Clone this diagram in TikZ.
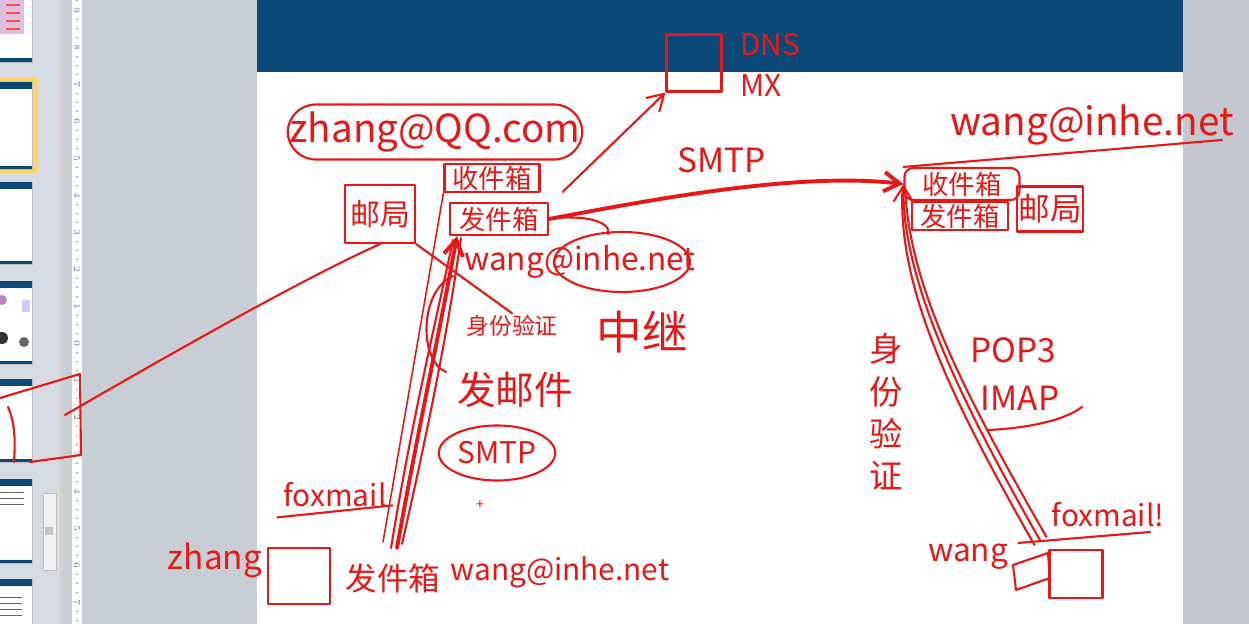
\documentclass[tikz,border=0pt]{standalone}
\usepackage{fontspec}
\usepackage{tikz}
\newfontfamily\cjk{Noto Sans CJK SC}
\usetikzlibrary{arrows.meta,shapes.geometric}
\definecolor{penred}{RGB}{232,22,22}
\definecolor{slideblue}{RGB}{10,72,120}
\definecolor{uigray}{RGB}{201,206,213}
\definecolor{panelgray}{RGB}{214,219,225}
\definecolor{sidegray}{RGB}{196,200,206}

\begin{document}
\begin{tikzpicture}[x=0.02cm, y=-0.02cm,
    pen/.style={draw=penred, line width=1.2pt, line cap=round, line join=round},
    heavy/.style={pen, line width=2.2pt},
    hand/.style={text=penred, font=\cjk\fontsize{#1}{#1}\selectfont, inner sep=1pt},
    hand/.default=18,
    mailbox/.style={pen, hand=15, minimum height=0.54cm, inner xsep=3pt},
    pc/.style={pen, minimum width=1.24cm, minimum height=1.12cm},
    thumb/.style={fill=white, draw=gray!50, line width=0.3pt},
    tip/.style={-{Straight Barb[length=9pt, width=11pt]}}]

    \useasboundingbox (0,0) rectangle (1249,624);
    \fill[uigray] (0,0) rectangle (1249,624);
    \fill[panelgray] (0,0) rectangle (60,624);
    \fill[gray!35] (60,0) rectangle (63,624);
    \fill[white] (72,0) rectangle (82,624);
    \foreach \k in {-10,...,7}
        \foreach \q in {0.25,0.5,0.75}
            \draw[gray!70, line width=0.3pt] (76,343+37*\k+37*\q) -- (78,343+37*\k+37*\q);
    \foreach \k in {1,...,9}
        \node[rotate=-90, font=\tiny, text=gray, inner sep=0pt] at (77,343-37*\k) {\k};
    \foreach \k in {0,...,7}
        \node[rotate=-90, font=\tiny, text=gray, inner sep=0pt] at (77,343+37*\k) {\k};
    \draw[gray!50, fill=gray!10] (43,493) rectangle (56,570);
    \fill[gray!45] (45,527) rectangle (53,535);

    \fill[thumb] (-2,-2) rectangle (32,62);
    \fill[violet!25] (0,0) rectangle (24,34);
    \foreach \r in {4,12,20,28}
        \fill[red!70] (6,\r) rectangle (20,\r+2);
    \fill[slideblue] (0,58) rectangle (32,62);
    \fill[yellow!50!orange!60] (-2,78) rectangle (37,173);
    \foreach \a/\b in {82/169,182/264,281/364,379/462,479/563,579/640} {
        \fill[thumb] (-2,\a) rectangle (32,\b);
        \fill[slideblue] (-2,\a) rectangle (32,\a+7);
        \fill[slideblue] (-2,\b-3) rectangle (32,\b);
    }
    \fill[violet!50] (2,300) circle (5);
    \fill[blue!20] (22,300) rectangle (30,312);
    \fill[black!80] (2,338) circle (6);
    \fill[black!60] (24,342) circle (5);
    \foreach \r in {492,498,504}
        \fill[black!60] (0,\r) rectangle (24,\r+1.5);
    \foreach \r in {597,603,609,615}
        \fill[black!60] (0,\r) rectangle (22,\r+1.5);

    \fill[white] (257,0) rectangle (1183,624);
    \fill[slideblue] (257,0) rectangle (1183,72);
    \fill[sidegray] (1183,0) rectangle (1249,624);

    \node[pen, minimum width=1.1cm, minimum height=1.14cm] (dnsbox) at (694,63) {};
    \node[hand=17, anchor=west] (dnslbl) at (738,45) {DNS};
    \node[hand=17, anchor=west] (mxlbl) at (738,86) {MX};

    \node[hand=22, draw=penred, line width=1.2pt, rounded corners=16pt, minimum width=5.4cm, minimum height=1.1cm] (qqaddr) at (435,132) {zhang@QQ.com};
    \node[mailbox, minimum width=1.9cm] (qqin) at (492,178) {收件箱};
    \node[mailbox, minimum width=1.96cm, minimum height=0.64cm] (qqout) at (499,219) {发件箱};
    \node[pen, hand=17, minimum width=1.4cm, minimum height=1.16cm] (qqpost) at (380,214) {邮局};
    \node[hand=18] (relayaddr) at (580,262) {wang@inhe.net};
    \draw[pen] ([shift={(42,0)}]relayaddr.center) ellipse [x radius=68, y radius=30];
    \draw[pen] (qqout.east) .. controls (585,214) and (612,222) .. (608,234);
    \draw[pen, tip] ([shift={(22,14)}]qqin.east) -- (dnsbox.south west);

    \node[hand=13] (authl) at (512,326) {身份验证};
    \node[hand=26] (relay) at (642,332) {中继};
    \node[hand=22] (sendmail) at (515,390) {发邮件};
    \node[hand=17, draw=penred, line width=1.2pt, ellipse, minimum width=2.3cm, minimum height=1.1cm] (smtpl) at (497,453) {SMTP};
    \node[hand=8] (cursor) at (480,505) {+};

    \node[hand=17] (foxl) at (335,495) {foxmail};
    \draw[pen] ([shift={(-4,8)}]foxl.south west) -- ([shift={(4,-4)}]foxl.south east);
    \node[hand=19] (zhangl) at (215,560) {zhang};
    \node[pc] (zhangpc) at (299,576) {};
    \node[hand=18] (outl) at (393,578) {发件箱};
    \node[hand=17] (wangl) at (560,572) {wang@inhe.net};
    \coordinate (foxsend) at (397,548);

    \draw[heavy, tip] (foxsend) .. controls (418,430) and (440,330) .. ([shift={(8,0)}]qqout.south west);
    \draw[pen] ([shift={(5,-4)}]foxsend) .. controls (428,430) and (448,330) .. ([shift={(12,2)}]qqout.south west);
    \draw[pen] ([shift={(-6,0)}]foxsend) .. controls (412,420) and (434,330) .. ([shift={(4,4)}]qqout.south west);
    \draw[pen, line width=0.9pt] ([shift={(-14,-6)}]foxsend) -- (qqin.south west);
    \draw[pen] ([shift={(4,40)}]qqout.south west) .. controls (420,290) and (418,360) .. (446,372);
    \draw[pen] (qqpost.south east) -- (authl.north);
    \draw[pen] (qqpost.south) .. controls (300,280) and (160,360) .. (65,415);
    \draw[pen] (0,398) -- (80,374) -- (81,455) -- (30,462);
    \draw[pen] (8,407) .. controls (16,425) and (15,445) .. (14,462);

    \node[hand=19] (smtptop) at (722,160) {SMTP};
    \node[hand=22] (wangaddr) at (1092,125) {wang@inhe.net};
    \node[mailbox, rounded corners=5pt, minimum width=2.3cm, minimum height=0.64cm] (inhein) at (962,184) {收件箱};
    \node[mailbox, minimum width=1.92cm] (inheout) at (960,216) {发件箱};
    \node[pen, hand=18, minimum width=1cm, minimum height=0.9cm] (inhepost) at (1050,209) {邮局};
    \draw[pen] (inhein.north west) -- (1222,140);
    \draw[heavy, tip] (qqout.east) .. controls (660,198) and (800,172) .. (inhein.west);

    \node[hand=19, font=\cjk\fontsize{19}{24}\selectfont, align=center] (authr) at (886,412) {身\\份\\验\\证};
    \node[hand=19] (pop) at (1013,350) {POP3};
    \node[hand=19] (imap) at (1020,398) {IMAP};
    \draw[pen] (988,430) .. controls (1030,428) and (1065,420) .. (1082,407);

    \node[hand=18] (wangr) at (968,557) {wang};
    \node[hand=17] (foxr) at (1108,515) {foxmail!};
    \node[pc, minimum width=1.06cm, minimum height=0.96cm] (wangpc) at (1076,574) {};
    \draw[pen] (1013,565) -- (1048,553) -- (1050,578) -- (1016,590) -- cycle;
    \draw[pen] ([shift={(-30,-6)}]wangpc.north west) -- (1150,532);
    \draw[pen, tip] ([shift={(-8,-8)}]wangpc.north west) .. controls (960,400) and (902,280) .. (inhein.west);
    \draw[pen] ([shift={(-14,-4)}]wangpc.north west) .. controls (952,400) and (898,290) .. ([shift={(-1,6)}]inhein.west);
    \draw[pen] ([shift={(-2,-12)}]wangpc.north west) .. controls (968,400) and (910,290) .. ([shift={(2,8)}]inhein.west);
\end{tikzpicture}
\end{document}
